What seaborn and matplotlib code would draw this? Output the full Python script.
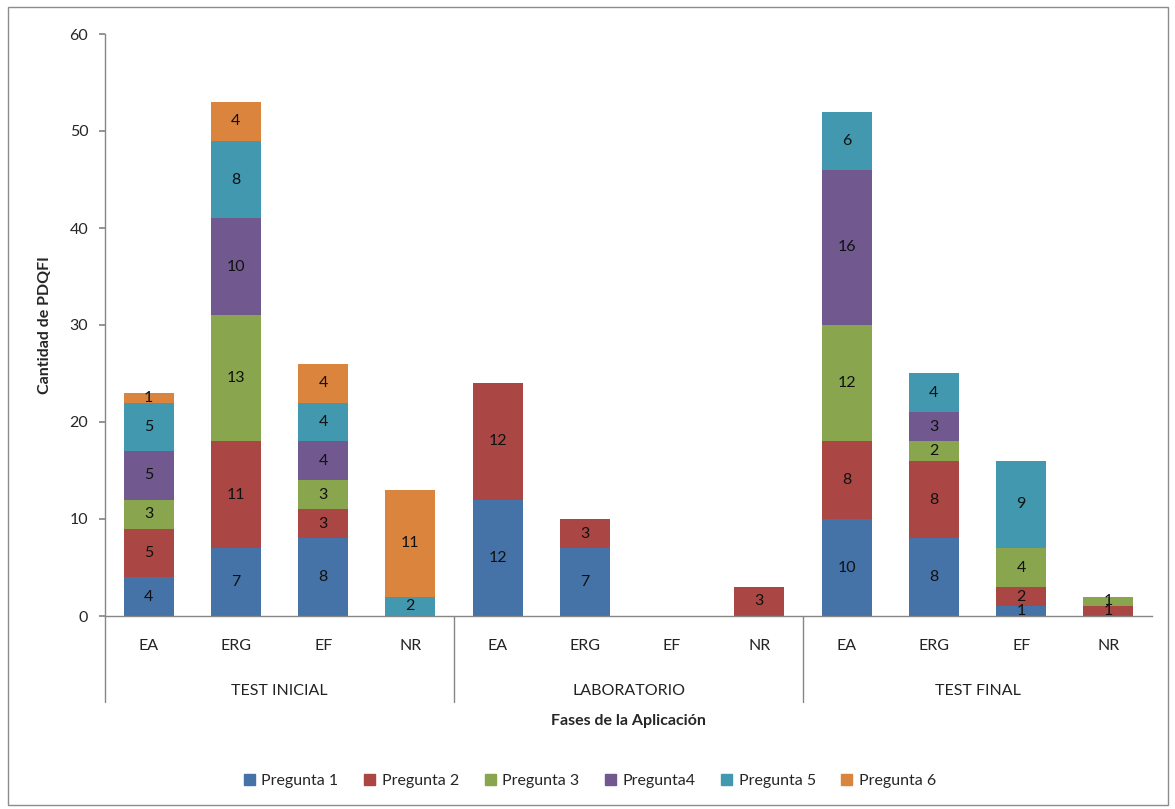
import matplotlib
matplotlib.use("Agg")
import matplotlib.pyplot as plt
import seaborn as sns
import numpy as np
import pandas as pd
from matplotlib.patches import Rectangle
from matplotlib.lines import Line2D

groups = ["TEST INICIAL", "LABORATORIO", "TEST FINAL"]
categories = ["EA", "ERG", "EF", "NR"]
series_names = ["Pregunta 1", "Pregunta 2", "Pregunta 3", "Pregunta4", "Pregunta 5", "Pregunta 6"]
colors = ["#4572A7", "#AA4643", "#89A54E", "#71588F", "#4198AF", "#DB843D"]

# order: TI EA, ERG, EF, NR, LAB EA, ERG, EF, NR, TF EA, ERG, EF, NR
pregunta1 = [4, 7, 8, 0, 12, 7, 0, 0, 10, 8, 1, 0]
pregunta2 = [5, 11, 3, 0, 12, 3, 0, 3, 8, 8, 2, 1]
pregunta3 = [3, 13, 3, 0, 0, 0, 0, 0, 12, 2, 4, 1]
pregunta4 = [5, 10, 4, 0, 0, 0, 0, 0, 16, 3, 0, 0]
pregunta5 = [5, 8, 4, 2, 0, 0, 0, 0, 6, 4, 9, 0]
pregunta6 = [1, 4, 4, 11, 0, 0, 0, 0, 0, 0, 0, 0]
series = [pregunta1, pregunta2, pregunta3, pregunta4, pregunta5, pregunta6]

sns.set_theme(style="white")
plt.rcParams["font.family"] = ["Lato", "DejaVu Sans"]

keys = [f"{g}|{c}" for g in groups for c in categories]
n = len(keys)

fig = plt.figure(figsize=(11.75, 8.09), dpi=100)
ax = fig.add_axes([105/1175, 1-616/809, (1152-105)/1175, (616-34)/809])

bottom = np.zeros(n)
for name, vals, col in zip(series_names, series, colors):
    vals = np.array(vals, dtype=float)
    df = pd.DataFrame({"key": keys, "val": vals})
    sns.barplot(data=df, x="key", y="val", order=keys, color=col, width=0.575,
                bottom=bottom, ax=ax, saturation=1, linewidth=0, errorbar=None)
    for i, v in enumerate(vals):
        if v > 0:
            ax.text(i, bottom[i] + v/2, f"{int(v)}", ha="center", va="center",
                    fontsize=11.5, color="#111111")
    bottom = bottom + vals

ax.set_xlim(-0.5, n - 0.5)
ax.set_ylim(0, 60)
ax.set_yticks(range(0, 61, 10))
ax.tick_params(axis="y", labelsize=11.5, length=4, direction="out", left=True, color="#868686", pad=8)
ax.tick_params(axis="x", length=0)
ax.set_xticks(range(n))
ax.set_xticklabels([""] * n)
ax.set_xlabel("")
ax.set_ylabel("Cantidad de PDQFI", fontsize=11.5, fontweight="bold")
ax.yaxis.set_label_coords(-0.051, 0.5)
for s in ["top", "right"]:
    ax.spines[s].set_visible(False)
for s in ["left", "bottom"]:
    ax.spines[s].set_color("#868686")
    ax.spines[s].set_linewidth(1)

trans = ax.get_xaxis_transform()
for i, k in enumerate(keys):
    ax.text(i, -30/582, k.split("|")[1], transform=trans, ha="center", va="center",
            fontsize=11.5, color="#222222")
for gi, g in enumerate(groups):
    ax.text(gi*4 + 1.5, -75/582, g, transform=trans, ha="center", va="center",
            fontsize=11.5, color="#222222")
for xs in [-0.5, 3.5, 7.5]:
    ax.add_line(Line2D([xs, xs], [0, -86/582], transform=trans, color="#868686",
                       lw=1, clip_on=False))

fig.text(628/1175, 1-721/809, "Fases de la Aplicación", ha="center", va="center",
         fontsize=11.5, fontweight="bold")

handles = [Rectangle((0, 0), 1, 1, color=c) for c in colors]
fig.legend(handles, series_names, loc="center", bbox_to_anchor=(590/1175, 1-781/809),
           ncol=6, frameon=False, fontsize=11.5, handlelength=0.7, handleheight=0.7,
           columnspacing=1.6, handletextpad=0.4)

fig.add_artist(Rectangle((8/1175, 4/809), 1160/1175, 798/809, transform=fig.transFigure,
                         fill=False, edgecolor="#8c8c8c", lw=1))

fig.savefig("out.png", dpi=100)
